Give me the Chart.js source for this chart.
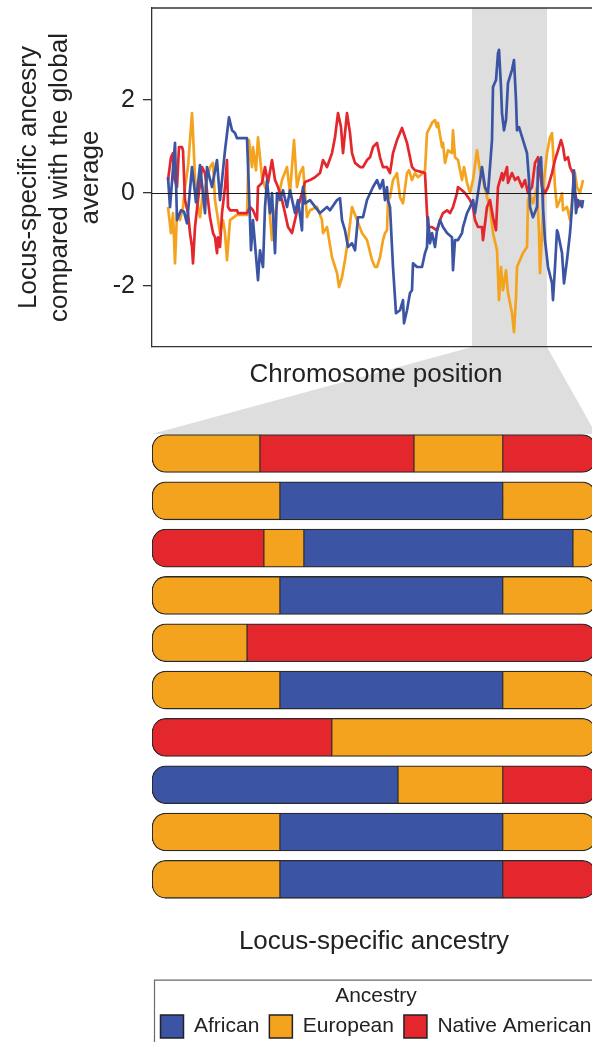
<!DOCTYPE html>
<html>
<head>
<meta charset="utf-8">
<script src="https://cdn.jsdelivr.net/npm/chart.js@4.4.1/dist/chart.umd.min.js"></script>
<style>
  html, body { margin: 0; padding: 0; background: #fff; }
  body { width: 592px; height: 1042px; overflow: hidden; position: relative; }
  canvas { position: absolute; left: 0; }
  #topChart { top: 0; }
  #barChart { top: 400px; }
</style>
</head>
<body>
<canvas id="topChart" width="600" height="434"></canvas>
<canvas id="barChart" width="604" height="648"></canvas>
<script>
// ---------- Data: locus-specific ancestry deviation (top panel) ----------
const africanPos = [18,20,25,27,31,34,37,42,46,50,
  55,57,62,67,70,75,79,82,85,87,
  97,100,101,103,108,110,113,115,117,120,
  122,125,127,130,133,137,140,145,148,152,
  153,155,160,170,177,180,187,190,192,195,
  198,202,205,208,213,217,223,227,230,233,
  235,237,238,240,243,246,250,253,254,257,
  260,262,263,267,272,275,277,278,280,282,
  285,287,290,293,297,302,303,305,308,312,
  313,317,320,323,325,328,332,335,338,342,
  343,346,348,349,351,352,354,356,358,362,
  364,366,367,369,373,377,379,380,383,387,
  388,391,393,395,398,402,403,405,407,408,
  412,414,417,420,422,424,426,428,432,433];
const africanVal = [0.34,-0.30,1.08,-0.58,-0.37,-0.40,-0.65,0.56,-0.20,0.60,
  -0.43,0.56,0.13,0.71,-0.15,0.92,1.63,1.35,1.29,1.18,
  1.18,-0.58,-1.23,-0.58,-1.87,-1.23,-1.59,-0.30,0.28,-0.43,
  0.00,-1.29,0.00,-0.15,0.06,-0.30,0.06,-0.43,-0.15,-0.80,
  0.13,-0.22,-0.15,-0.43,-0.30,-0.37,-0.15,-0.11,-0.58,-0.80,
  -1.16,-1.08,-1.23,-0.52,-0.52,-0.15,0.13,0.28,0.10,0.28,
  -0.15,0.13,-0.15,-0.30,-1.59,-2.58,-2.52,-2.30,-2.80,-2.52,
  -2.15,-2.09,-1.51,-1.59,-1.59,-1.29,-1.16,-0.52,-1.08,-0.86,
  -1.16,-0.80,-0.58,-0.73,-0.86,-0.95,-1.66,-1.01,-1.01,-0.86,
  -0.73,-0.43,-0.30,-0.15,-0.43,0.00,0.56,0.13,0.00,1.14,
  2.28,2.43,3.01,3.08,2.28,1.72,1.35,1.57,2.37,2.65,
  2.86,2.00,1.35,1.42,1.14,0.86,0.28,-0.30,-0.52,-0.30,
  0.56,0.77,-0.30,-1.01,-1.59,-1.94,-2.30,-1.59,-0.80,-0.86,
  -1.29,-1.94,-1.44,-0.86,-0.30,0.49,-0.43,-0.15,-0.30,-0.15];

const europeanPos = [18,21,23,25,27,30,33,35,38,42,
  43,45,47,50,53,57,60,63,65,67,
  70,73,75,77,80,87,97,99,102,103,
  106,108,112,115,118,122,125,128,132,137,
  140,144,147,150,153,157,160,167,172,173,
  177,182,187,189,192,195,198,202,207,212,
  217,222,225,227,230,233,235,237,238,240,
  243,247,250,253,257,259,262,265,268,273,
  275,277,280,282,285,287,288,292,293,295,
  298,302,303,305,308,312,314,317,320,323,
  327,328,330,333,337,340,343,347,349,351,
  353,356,358,362,364,366,367,370,373,377,
  378,380,383,387,389,390,392,394,397,400,
  402,403,405,407,410,412,413,417,420,423,
  425,427,430,433];
const europeanVal = [-0.30,-0.86,-0.43,-1.51,-0.43,-0.58,-0.30,0.13,0.56,1.72,
  1.29,0.34,-0.15,-0.52,0.00,0.28,0.56,0.65,-0.15,-0.43,
  -0.86,-0.58,-0.86,-1.44,-0.58,-0.47,-0.47,1.14,0.56,0.99,
  0.49,1.20,0.34,0.13,0.00,-1.01,-0.43,-0.15,0.28,0.56,
  0.00,1.14,0.13,0.43,0.56,-0.52,-0.37,-0.30,-0.58,-0.86,
  -0.73,-1.38,-1.72,-2.02,-1.81,-1.44,-1.01,-0.30,-0.58,-0.86,
  -1.01,-1.44,-1.59,-1.59,-1.38,-1.01,-0.86,-0.80,-0.15,-0.09,
  0.28,0.43,-0.09,-0.22,0.43,0.49,0.28,0.43,0.34,0.43,
  0.49,1.29,1.42,1.51,1.57,1.42,1.51,0.99,1.08,0.65,
  0.92,0.86,1.35,0.77,0.71,0.28,0.56,0.22,0.00,0.28,
  0.92,0.77,0.49,0.28,-0.09,-0.30,-0.86,-1.23,-2.30,-1.59,
  -2.09,-1.66,-2.15,-2.58,-2.99,-2.24,-1.59,-1.44,-1.29,-1.16,
  -0.15,0.00,-0.22,0.13,-0.86,-1.72,-0.86,0.28,0.86,1.20,
  1.29,0.92,0.13,-0.30,-0.15,0.00,-0.37,-0.30,-0.58,0.06,
  0.43,0.13,0.00,0.28];

const nativePos = [18,21,23,24,27,29,32,33,35,38,
  40,42,43,45,48,52,55,58,60,63,
  65,67,68,70,72,75,77,78,80,87,
  88,97,100,103,107,108,112,115,118,122,
  125,128,132,135,138,142,145,148,152,155,
  160,165,170,173,177,182,185,188,191,193,
  195,197,200,202,205,210,213,217,220,223,
  227,230,233,237,240,243,247,252,257,262,
  265,272,275,277,278,282,287,290,293,297,
  300,303,307,308,312,315,320,323,325,328,
  332,333,337,340,343,346,348,352,353,357,
  358,362,365,368,372,375,378,382,385,388,
  390,392,395,398,402,405,408,411,413,415,
  418,420,423,425,428,431];
const nativeVal = [0.28,0.77,0.86,0.34,0.13,0.99,0.99,0.92,-0.15,-0.43,
  -0.86,-1.16,-1.51,-0.73,-0.15,0.56,0.43,-0.15,-0.52,-0.86,
  -0.95,-1.29,-0.95,-1.16,-0.43,0.13,0.71,-0.30,-0.37,-0.37,
  -0.43,-0.43,-0.30,-0.37,-0.58,0.13,0.22,0.56,0.22,0.71,
  0.28,0.13,-0.15,-0.43,-0.73,-0.86,-0.58,-0.30,0.00,0.24,
  0.28,0.34,0.43,0.71,0.56,0.86,1.20,1.72,1.42,0.86,
  1.29,1.72,1.29,0.86,0.65,0.56,0.56,0.71,0.77,0.99,
  1.08,0.77,0.56,0.56,0.43,0.86,1.14,1.40,1.08,0.56,
  0.49,0.45,0.43,-0.43,-0.73,-0.73,-0.80,-0.58,-0.43,-0.37,
  -0.43,-0.30,0.00,0.13,0.06,0.00,-0.15,-0.30,-0.58,-0.73,
  -0.73,-1.01,-0.30,-0.15,-0.52,-0.80,0.13,0.43,0.28,0.56,
  0.22,0.43,0.28,0.34,0.13,0.28,0.00,0.13,0.65,0.77,
  0.43,0.13,0.00,0.13,0.43,0.71,0.92,1.14,0.99,0.71,
  0.77,0.56,0.43,0.00,-0.30,-0.15];

const yTicks = [-2, 0, 2];
const highlightRange = [322, 397];   // highlighted chromosome region (position units)

// ---------- Data: chromosomes (bottom panel) ----------
const ancestryNames = ['African', 'European', 'Native American'];
const ancestryColors = ['#3b55a4', '#f4a31f', '#e4272d'];
const chromosomeLabels = ['1','2','3','4','5','6','7','8','9','10'];
const segmentLengths = [
  [24.3, 34.7, 20.0, 21.0],
  [28.8, 50.2, 21.0],
  [25.2, 9.0, 60.6, 5.2],
  [28.8, 50.2, 21.0],
  [21.4, 78.6],
  [28.8, 50.2, 21.0],
  [40.5, 59.5],
  [55.4, 23.6, 21.0],
  [28.8, 50.2, 21.0],
  [28.8, 50.2, 21.0]
];
const segmentAncestry = [
  ['European', 'Native American', 'European', 'Native American'],
  ['European', 'African', 'European'],
  ['Native American', 'European', 'African', 'European'],
  ['European', 'African', 'European'],
  ['European', 'Native American'],
  ['European', 'African', 'European'],
  ['Native American', 'European'],
  ['African', 'European', 'Native American'],
  ['European', 'African', 'European'],
  ['European', 'African', 'Native American']
];

// ---------- Styling ----------
const FONT = "'Liberation Sans', Arial, Helvetica, sans-serif";
const TEXT = '#222';
const SHADE = '#dedede';
Chart.defaults.font.family = FONT;
Chart.defaults.color = TEXT;

const colorOf = name => ancestryColors[ancestryNames.indexOf(name)];
const toPoints = (xs, ys) => xs.map((x, i) => ({ x: x, y: ys[i] }));

// ---------- Bottom chart: chromosomes ----------
const maxSegs = Math.max(...segmentLengths.map(r => r.length));
const barDatasets = [];
for (let s = 0; s < maxSegs; s++) {
  barDatasets.push({
    label: 'segment ' + (s + 1),
    data: segmentLengths.map(r => (s < r.length ? r[s] : null)),
    backgroundColor: segmentAncestry.map(r => (s < r.length ? colorOf(r[s]) : 'rgba(0,0,0,0)')),
    borderColor: '#2a2a2a',
    borderSkipped: false,
    borderWidth: ctx => {
      const n = segmentLengths[ctx.dataIndex].length;
      return { top: 1.3, bottom: 1.3, left: s === 0 ? 1.3 : 0.9, right: s === n - 1 ? 1.3 : 0.9 };
    },
    borderRadius: ctx => {
      const n = segmentLengths[ctx.dataIndex].length;
      const first = s === 0, last = s === n - 1;
      return { topLeft: first ? 14 : 0, bottomLeft: first ? 14 : 0, topRight: last ? 14 : 0, bottomRight: last ? 14 : 0 };
    },
    barThickness: 38,
    stack: 'chrom'
  });
}

const legendFramePlugin = {
  id: 'legendFrame',
  afterDraw(chart) {
    const lg = chart.legend;
    if (!lg) return;
    const ctx = chart.ctx;
    ctx.save();
    ctx.strokeStyle = '#6a6a6a';
    ctx.lineWidth = 1.2;
    ctx.beginPath();
    const x0 = chart.chartArea.left + 2.5, y0 = lg.top - 6;
    ctx.moveTo(chart.width + 5, y0);
    ctx.lineTo(x0, y0);
    ctx.lineTo(x0, chart.height + 5);
    ctx.stroke();
    ctx.restore();
  }
};

const barChart = new Chart(document.getElementById('barChart'), {
  type: 'bar',
  data: { labels: chromosomeLabels, datasets: barDatasets },
  options: {
    indexAxis: 'y',
    responsive: false,
    animation: false,
    devicePixelRatio: 1,
    layout: { padding: { left: 148, right: 0, top: 29.85, bottom: 0 } },
    scales: {
      x: {
        stacked: true, min: 0, max: 100,
        ticks: { display: false },
        grid: { display: false, drawTicks: false },
        border: { display: false },
        title: { display: true, text: 'Locus-specific ancestry', color: TEXT,
                 font: { size: 26, family: FONT, lineHeight: 1.2 }, padding: { top: 23.5, bottom: 28.4 } },
        afterFit: s => { s.paddingLeft = 0; s.paddingRight = 0; }
      },
      y: {
        stacked: true, display: true,
        ticks: { display: false },
        grid: { display: false, drawTicks: false },
        border: { display: false },
        afterFit: s => { s.width = 4; s.paddingTop = 0; s.paddingBottom = 0; }
      },
      yRight: {
        type: 'linear', axis: 'y', position: 'right', display: true,
        ticks: { display: false },
        grid: { display: false, drawTicks: false },
        border: { display: false },
        afterFit: s => { s.width = 8; s.paddingTop = 0; s.paddingBottom = 0; }
      }
    },
    plugins: {
      tooltip: { enabled: false },
      legend: {
        display: true,
        position: 'bottom',
        align: 'center',
        onClick: () => {},
        title: { display: true, text: 'Ancestry', color: TEXT,
                 font: { size: 21, family: FONT, lineHeight: 0.9 }, padding: { top: 0, bottom: 0 } },
        labels: {
          boxWidth: 23, boxHeight: 23, padding: 10, color: TEXT,
          font: { size: 21, family: FONT },
          generateLabels: () => ancestryNames.map((n, i) => ({
            text: n, fillStyle: ancestryColors[i], strokeStyle: '#222', lineWidth: 1.5,
            hidden: false, index: i, fontColor: TEXT
          }))
        }
      }
    }
  },
  plugins: [legendFramePlugin]
});

// ---------- Top chart: ancestry deviation lines ----------
const shadePlugin = {
  id: 'shade',
  beforeDraw(chart) {
    const { ctx, chartArea, scales } = chart;
    const xs = scales.x.getPixelForValue(highlightRange[0]);
    const xe = scales.x.getPixelForValue(highlightRange[1]);
    const ba = barChart.chartArea;
    ctx.save();
    ctx.fillStyle = SHADE;
    ctx.fillRect(xs, chartArea.top, xe - xs, chartArea.bottom - chartArea.top);
    ctx.beginPath();
    ctx.moveTo(xs, chartArea.bottom);
    ctx.lineTo(xe, chartArea.bottom);
    ctx.lineTo(ba.right, chart.height);
    ctx.lineTo(ba.left, chart.height);
    ctx.closePath();
    ctx.fill();
    ctx.restore();
  },
  afterDatasetsDraw(chart) {
    const { ctx, chartArea, scales } = chart;
    const y0 = Math.round(scales.y.getPixelForValue(0)) + 0.5;
    ctx.save();
    ctx.strokeStyle = '#1a1a1a';
    ctx.lineWidth = 1.2;
    ctx.beginPath();
    ctx.moveTo(chartArea.left, y0);
    ctx.lineTo(chartArea.right, y0);
    ctx.stroke();
    ctx.restore();
  },
  afterDraw(chart) {
    const { ctx, chartArea } = chart;
    ctx.save();
    ctx.strokeStyle = '#333';
    ctx.lineWidth = 1.3;
    ctx.beginPath();
    ctx.moveTo(chartArea.left, chartArea.top);
    ctx.lineTo(chartArea.right + 10, chartArea.top);
    ctx.stroke();
    ctx.restore();
  }
};

const lineStyle = { borderWidth: 2.7, pointRadius: 0, fill: false, tension: 0, borderJoinStyle: 'round' };

new Chart(document.getElementById('topChart'), {
  type: 'line',
  data: {
    datasets: [
      Object.assign({ label: 'African', data: toPoints(africanPos, africanVal), borderColor: ancestryColors[0], order: 0 }, lineStyle),
      Object.assign({ label: 'Native American', data: toPoints(nativePos, nativeVal), borderColor: ancestryColors[2], order: 1 }, lineStyle),
      Object.assign({ label: 'European', data: toPoints(europeanPos, europeanVal), borderColor: ancestryColors[1], order: 2 }, lineStyle)
    ]
  },
  options: {
    responsive: false,
    animation: false,
    devicePixelRatio: 1,
    layout: { padding: { top: 8, left: 0, right: 0, bottom: 44 } },
    scales: {
      x: {
        type: 'linear', min: 2, max: 450,
        ticks: { display: false },
        grid: { display: false, drawTicks: false },
        border: { display: true, color: '#333', width: 1.3 },
        title: { display: true, text: 'Chromosome position', color: TEXT,
                 font: { size: 26, family: FONT, lineHeight: 1.2 }, padding: { top: 11.8, bottom: 0 } },
        afterFit: s => { s.paddingLeft = 0; s.paddingRight = 0; }
      },
      y: {
        type: 'linear', min: -3.31, max: 3.98,
        afterBuildTicks: s => { s.ticks = yTicks.map(v => ({ value: v })); },
        ticks: { color: TEXT, font: { size: 25, family: FONT }, padding: 8, callback: v => String(v) },
        grid: { drawOnChartArea: false, drawTicks: true, tickLength: 9, color: '#333', lineWidth: 1.3 },
        border: { display: true, color: '#333', width: 1.3 },
        title: { display: true, color: TEXT,
                 text: ['Locus-specific ancesry', 'compared with the global', 'average'],
                 font: { size: 26, family: FONT, lineHeight: 1.19 }, padding: { top: 13, bottom: 0 } },
        afterFit: s => { s.width = 152; s.paddingTop = 0; s.paddingBottom = 0; }
      }
    },
    plugins: { legend: { display: false }, tooltip: { enabled: false } }
  },
  plugins: [shadePlugin]
});
</script>
</body>
</html>
